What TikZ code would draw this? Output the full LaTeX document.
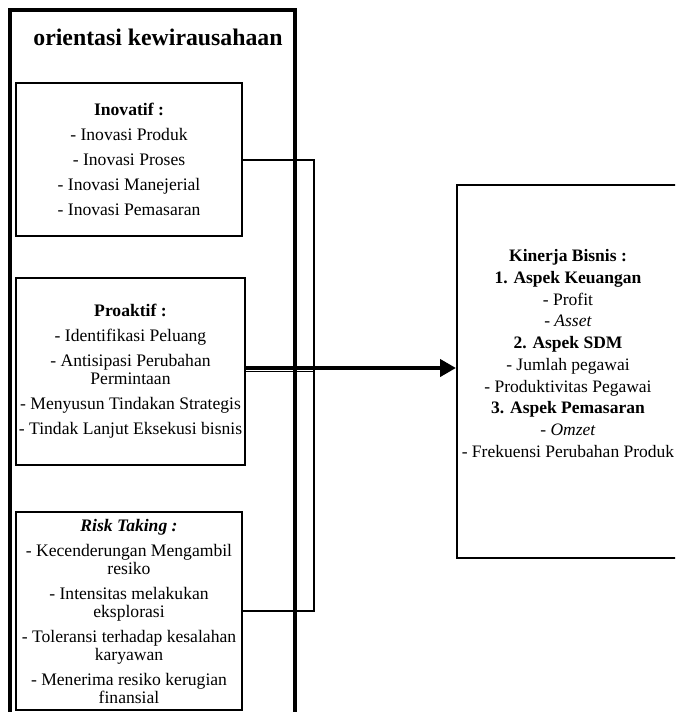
\documentclass[tikz,border=0pt]{standalone}
\usepackage{fontspec}
\setmainfont{Liberation Serif}
\usetikzlibrary{arrows.meta}

\begin{document}
\begin{tikzpicture}[x=1pt,y=-1pt,
box/.style={draw,line width=2pt,inner sep=0pt},
txt/.style={align=center,font=\fontsize{17.6}{18}\selectfont},
arr/.style={line width=4pt,-{Triangle[length=16pt,width=17pt]}}]
\useasboundingbox(0,0)rectangle(675,712);
\clip(0,0)rectangle(675,712);
\node[draw,line width=3.5pt,minimum width=285pt,minimum height=740pt](orientasi)at(152.5,380){};
\node[font=\bfseries\fontsize{23.8}{26}\selectfont](judul)at(158,37){orientasi kewirausahaan};
\node[box,txt,minimum width=226pt,minimum height=153pt](inovatif)at(129,159.5){\textbf{Inovatif :}\\[7pt]- Inovasi Produk\\[7pt]- Inovasi Proses\\[7pt]- Inovasi Manejerial\\[7pt]- Inovasi Pemasaran};
\node[box,txt,minimum width=229pt,minimum height=187pt](proaktif)at(130.5,371.5){\textbf{Proaktif :}\\[7pt]- Identifikasi Peluang\\[7pt]- Antisipasi Perubahan\\Permintaan\\[7pt]- Menyusun Tindakan Strategis\\[7pt]- Tindak Lanjut Eksekusi bisnis};
\node[box,txt,minimum width=226pt,minimum height=198pt](risk)at(129,611){\textbf{\textit{Risk Taking :}}\\[7pt]- Kecenderungan Mengambil\\resiko\\[7pt]- Intensitas melakukan\\eksplorasi\\[7pt]- Toleransi terhadap kesalahan\\karyawan\\[7pt]- Menerima resiko kerugian\\finansial};
\node[box,minimum width=222pt,minimum height=373pt](kinerja)at(568,371.5){};
\node[txt,font=\fontsize{17.5}{21.7}\selectfont](kinerjatxt)at(568,353.5){\textbf{Kinerja Bisnis :}\\\textbf{1. Aspek Keuangan}\\- Profit\\- \textit{Asset}\\\textbf{2. Aspek SDM}\\- Jumlah pegawai\\- Produktivitas Pegawai\\\textbf{3. Aspek Pemasaran}\\- \textit{Omzet}\\- Frekuensi Perubahan Produk};
\coordinate(siku)at([xshift=71pt]inovatif.east);
\draw[line width=2pt](inovatif.east)--(siku)|-(risk.east);
\draw[line width=1.2pt](proaktif.east)--(proaktif.east-|siku);
\coordinate(pangkal)at([yshift=3.5pt]proaktif.east);
\draw[arr](pangkal)--(pangkal-|kinerja.west);
\end{tikzpicture}
\end{document}
